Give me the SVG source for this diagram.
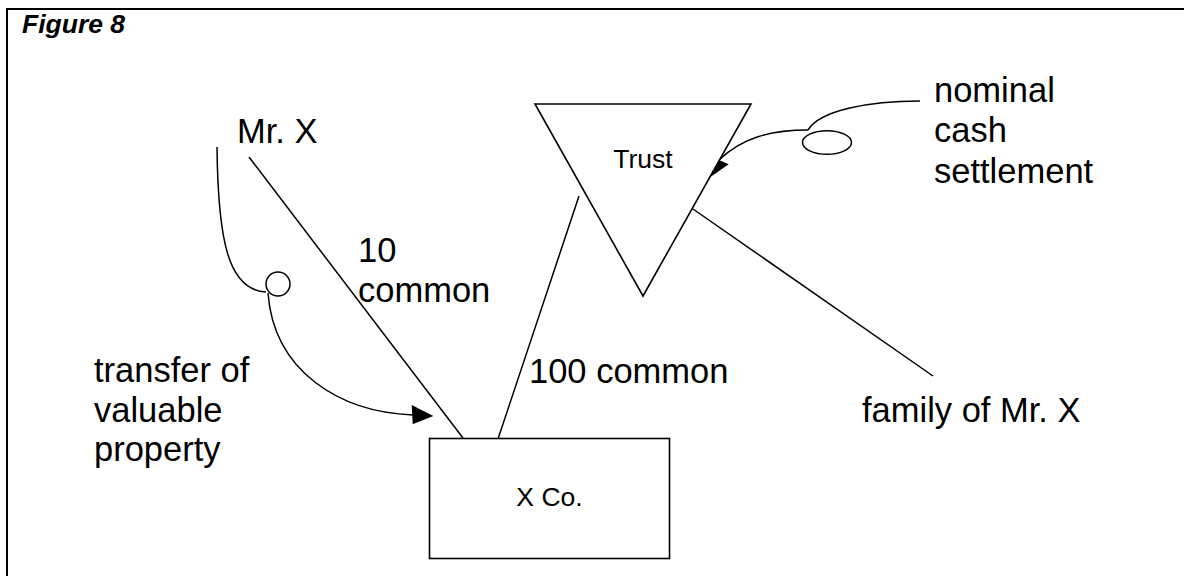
<svg xmlns="http://www.w3.org/2000/svg" width="1184" height="576" viewBox="0 0 1184 576">
<style>
  text { font-family: "Liberation Sans", Arial, sans-serif; fill: #000; }
  .big { font-size: 34.5px; }
  .mid { font-size: 26.5px; }
  .title { font-size: 26.5px; font-weight: bold; font-style: italic; }
  .shape { fill: #fff; stroke: #000; stroke-width: 1.6; }
  .line { fill: none; stroke: #000; stroke-width: 1.5; }
  .head { fill: #000; stroke: none; }
  .frame { stroke: #000; stroke-width: 2; fill: none; }
</style>
<rect x="0" y="0" width="1184" height="576" fill="#fff"/>
<g id="frame">
  <line class="frame" x1="6" y1="9" x2="1184" y2="9"/>
  <line class="frame" x1="7" y1="8" x2="7" y2="576"/>
  <text class="title" x="22" y="33">Figure 8</text>
</g>
<g id="connectors">
  <line class="line" x1="249" y1="157" x2="466" y2="442"/>
  <line class="line" x1="579" y1="196" x2="497" y2="442"/>
  <line class="line" x1="693" y1="209" x2="933" y2="376"/>
  <path class="line" d="M217,147 C218,240 228,290 266,292"/>
  <ellipse class="line" cx="278" cy="284" rx="12" ry="12"/>
  <path class="line" d="M268,293 C274,372 340,412 413,415"/>
  <polygon class="head" points="433.3,416 411.7,405 412.7,424.3"/>
  <path class="line" d="M920,101 C870,101 820,110 808,130"/>
  <ellipse class="line" cx="827" cy="142.5" rx="24.5" ry="11.8"/>
  <path class="line" d="M808,130 C770,130 742,138 719,160"/>
  <polygon class="head" points="710.7,176.7 709.3,156 728.7,164.3"/>
</g>
<g id="mr-x">
  <text class="big" x="237" y="143">Mr. X</text>
</g>
<g id="trust">
  <polygon class="shape" points="535,104 751,104 643,296"/>
  <text class="mid" x="643" y="168" text-anchor="middle">Trust</text>
</g>
<g id="x-co">
  <rect class="shape" x="429.5" y="438.5" width="240" height="120"/>
  <text class="mid" x="549.5" y="506" text-anchor="middle">X Co.</text>
</g>
<g id="family">
  <text class="big" x="862" y="422">family of Mr. X</text>
</g>
<g id="labels">
  <text class="big" x="358" y="262">10</text>
  <text class="big" x="358" y="302">common</text>
  <text class="big" x="529" y="383">100 common</text>
  <text class="big" x="94" y="381.5">transfer of</text>
  <text class="big" x="94" y="421.5">valuable</text>
  <text class="big" x="94" y="461">property</text>
  <text class="big" x="934" y="101.5">nominal</text>
  <text class="big" x="934" y="142">cash</text>
  <text class="big" x="934" y="182.5">settlement</text>
</g>
</svg>
